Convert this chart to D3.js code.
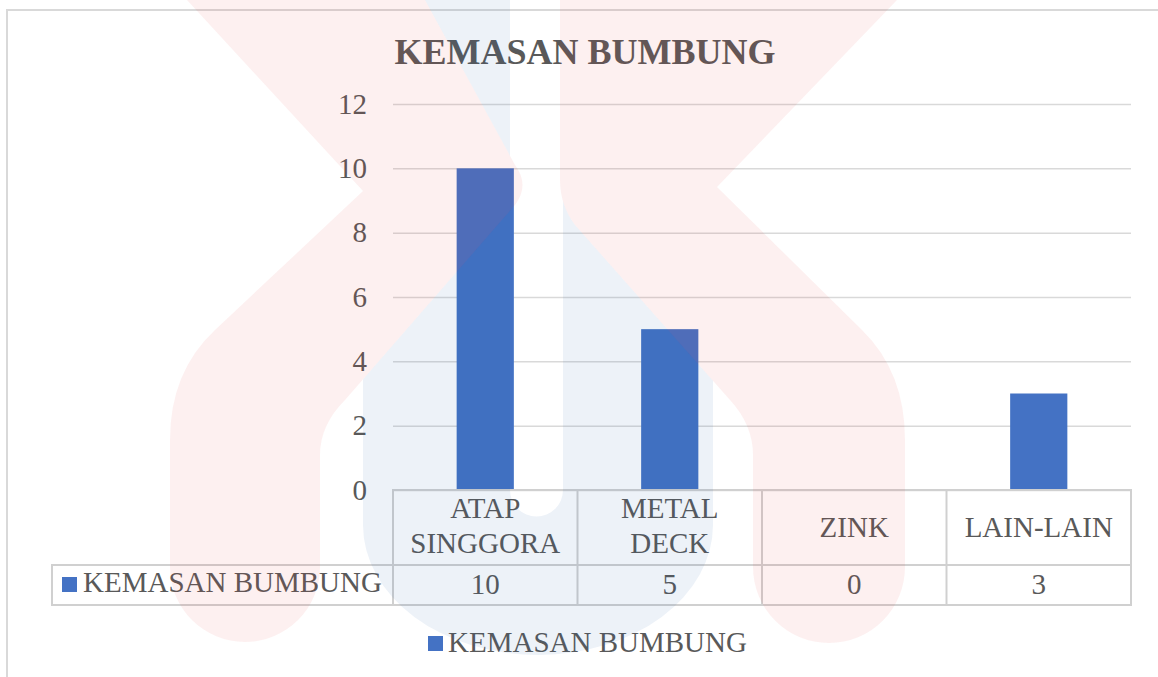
<!DOCTYPE html>
<html>
<head>
<meta charset="utf-8">
<script src="https://cdn.jsdelivr.net/npm/d3@7"></script>
<style>
  body { margin: 0; background: #fff; }
</style>
</head>
<body>
<div class="main-container"></div>
<script>
// chart data
const title = "KEMASAN BUMBUNG";
const seriesName = "KEMASAN BUMBUNG";
const categories = ["ATAP SINGGORA", "METAL DECK", "ZINK", "LAIN-LAIN"];
const categoryLabels = [["ATAP", "SINGGORA"], ["METAL", "DECK"], ["ZINK"], ["LAIN-LAIN"]];
const values = [10, 5, 0, 3];
const yTicks = [0, 2, 4, 6, 8, 10, 12];

const width = 1158,
  height = 677;

const plot = {left: 393, right: 1131, top: 104, bottom: 490};
const headerBottom = 565, rowBottom = 605, legendCellLeft = 52;
const barColor = "#4472C4", lineColor = "#d9d9d9", textColor = "#595959";

const svg = d3.select(".main-container")
  .append("svg")
  .attr("width", width)
  .attr("height", height);

// pick a Times-like serif that is really installed
function pickFont() {
  const probe = svg.append("text").style("font-size", "40px").text("KEMASAN BUMBUNG 0123");
  probe.style("font-family", "monospace");
  const base = probe.node().getComputedTextLength();
  const names = ["Liberation Serif", "Times New Roman", "DejaVu Serif", "Noto Serif", "FreeSerif"];
  let found = "serif";
  for (const n of names) {
    probe.style("font-family", "'" + n + "', monospace");
    if (Math.abs(probe.node().getComputedTextLength() - base) > 0.5) { found = "'" + n + "'"; break; }
  }
  probe.remove();
  return found + ", serif";
}
const font = pickFont();

// outer chart border
svg.append("rect")
  .attr("x", 7).attr("y", 10)
  .attr("width", 1170).attr("height", 700)
  .attr("fill", "none")
  .attr("stroke", lineColor)
  .attr("stroke-width", 2);

svg.append("text")
  .attr("x", 585).attr("y", 64)
  .attr("text-anchor", "middle")
  .attr("fill", textColor)
  .style("font-family", font)
  .style("font-size", "36px")
  .style("font-weight", "bold")
  .text(title);

let x = d3.scaleBand()
  .domain(categories)
  .range([plot.left, plot.right]);

let y = d3.scaleLinear()
  .domain([0, 12])
  .range([plot.bottom, plot.top]);

// gridlines + y labels
const yAxis = svg.append("g")
  .attr("transform", "translate(" + plot.left + ",0)")
  .call(d3.axisLeft(y)
    .tickValues(yTicks)
    .tickSize(-(plot.right - plot.left))
    .tickPadding(26)
    .tickFormat(d3.format("d")));
yAxis.select(".domain").remove();
yAxis.selectAll("line")
  .attr("stroke", lineColor)
  .attr("stroke-width", 1.5);
yAxis.selectAll("text")
  .attr("fill", textColor)
  .style("font-family", font)
  .style("font-size", "29px");

// bars
const barW = x.bandwidth() * 0.31;
svg.selectAll(".bar")
  .data(values)
  .enter()
  .append("rect")
  .attr("class", "bar")
  .attr("x", (d, i) => x(categories[i]) + (x.bandwidth() - barW) / 2)
  .attr("y", d => y(d))
  .attr("width", barW)
  .attr("height", d => y(0) - y(d))
  .attr("fill", barColor);

// data table
const table = svg.append("g")
  .attr("fill", "none")
  .attr("stroke", "#d0d0d0")
  .attr("stroke-width", 2);

table.append("rect")
  .attr("x", plot.left).attr("y", plot.bottom)
  .attr("width", plot.right - plot.left)
  .attr("height", rowBottom - plot.bottom);
table.append("rect")
  .attr("x", legendCellLeft).attr("y", headerBottom)
  .attr("width", plot.right - legendCellLeft)
  .attr("height", rowBottom - headerBottom);
table.selectAll(".sep")
  .data(categories.slice(1))
  .enter()
  .append("line")
  .attr("x1", d => x(d)).attr("x2", d => x(d))
  .attr("y1", plot.bottom).attr("y2", rowBottom);

const txt = sel => sel.attr("fill", textColor)
  .style("font-family", font)
  .style("font-size", "29px");

// header labels
const head = svg.selectAll(".cat")
  .data(categoryLabels)
  .enter()
  .append("text")
  .attr("class", "cat")
  .attr("text-anchor", "middle")
  .call(txt);
head.each(function (lines, i) {
  const cx = x(categories[i]) + x.bandwidth() / 2;
  const base = lines.length > 1 ? 518 : 537;
  d3.select(this).selectAll("tspan")
    .data(lines)
    .enter()
    .append("tspan")
    .attr("x", cx)
    .attr("y", (d, j) => base + j * 35)
    .text(d => d);
});

// values row
svg.selectAll(".val")
  .data(values)
  .enter()
  .append("text")
  .attr("class", "val")
  .attr("x", (d, i) => x(categories[i]) + x.bandwidth() / 2)
  .attr("y", 594)
  .attr("text-anchor", "middle")
  .call(txt)
  .text(d => d);

// legend key in the table
svg.append("rect")
  .attr("x", 62).attr("y", 577)
  .attr("width", 15).attr("height", 15)
  .attr("fill", barColor);
svg.append("text")
  .attr("x", 83).attr("y", 592)
  .call(txt)
  .text(seriesName);

// bottom legend
svg.append("rect")
  .attr("x", 428).attr("y", 636)
  .attr("width", 15).attr("height", 15)
  .attr("fill", barColor);
svg.append("text")
  .attr("x", 448).attr("y", 652)
  .call(txt)
  .text(seriesName);

// faint watermark laid over the page
const pinkShapes = [
  "M187,0 L363,191 L215,330 Q170,372 170,440 L170,567 A75,75 0 0 0 320,567 L320,455 Q320,425 345,400" +
    " L515,205 Q530,185 515,165 L425,0 Z",
  "M897,0 L717,187 L862,330 Q905,372 905,440 L905,567 A76,76 0 0 1 753,567 L753,455 Q753,425 730,400" +
    " L575,225 Q560,205 560,180 L560,0 Z"
];
const mask = svg.append("defs").append("mask").attr("id", "no-pink");
mask.append("rect").attr("width", width).attr("height", height).attr("fill", "#fff");
mask.selectAll("path").data(pinkShapes).enter().append("path")
  .attr("d", d => d).attr("fill", "#000");

const wm = svg.append("g").style("pointer-events", "none");
wm.append("path")
  .attr("fill", "rgb(30,92,167)")
  .attr("fill-opacity", 0.08)
  .attr("mask", "url(#no-pink)")
  .attr("d", "M363,0 L510,0 L510,490 A26.5,26.5 0 0 0 563,490 L563,0 L713,0 L713,525 A175,130 0 0 1 363,525 Z");
wm.selectAll(".pink").data(pinkShapes).enter().append("path")
  .attr("class", "pink")
  .attr("fill", "rgb(229,57,53)")
  .attr("fill-opacity", 0.075)
  .attr("d", d => d);
</script>
</body>
</html>
